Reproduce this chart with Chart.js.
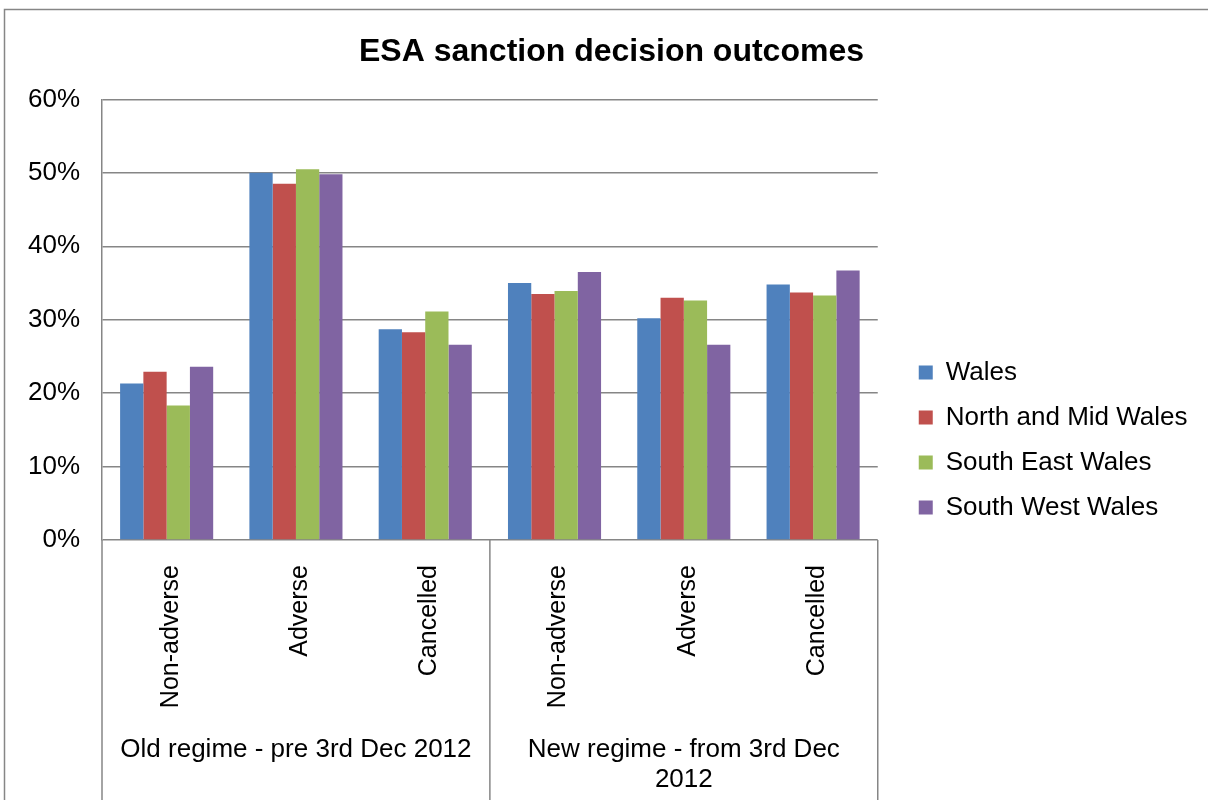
<!DOCTYPE html>
<html>
<head>
<meta charset="utf-8">
<title>ESA sanction decision outcomes</title>
<script src="https://cdn.jsdelivr.net/npm/chart.js@4.4.1/dist/chart.umd.min.js"></script>
<style>
  html, body { margin: 0; padding: 0; background: #fff; }
  #wrap { width: 1208px; height: 800px; position: relative; }
</style>
</head>
<body>
<div id="wrap"><canvas id="esaChart"></canvas></div>
<script>
// categories and region series (percent)
const categories = ['Non-adverse', 'Adverse', 'Cancelled', 'Non-adverse', 'Adverse', 'Cancelled'];
const groupLabels = [['Old regime - pre 3rd Dec 2012'], ['New regime - from 3rd Dec', '2012']];
const groupSizes = [3, 3];

const wales     = [21.3, 50.0, 28.7, 35.0, 30.2, 34.8];
const northMid  = [22.9, 48.5, 28.3, 33.5, 33.0, 33.7];
const southEast = [18.3, 50.5, 31.1, 33.9, 32.6, 33.3];
const southWest = [23.6, 49.8, 26.6, 36.5, 26.6, 36.7];

const yTicks = [0, 10, 20, 30, 40, 50, 60];

const lineGrey = '#868686';
const fontFamily = '"Liberation Sans", Arial, sans-serif';

Chart.defaults.font.family = fontFamily;
Chart.defaults.color = '#000';

// outer frame, group separators and the second row of category labels
const groupAxis = {
    id: 'groupAxis',
    beforeDraw(chart) {
        const ctx = chart.ctx;
        ctx.save();
        ctx.strokeStyle = lineGrey;
        ctx.lineWidth = 1.5;
        ctx.strokeRect(4.5, 9.5, chart.width + 20, chart.height + 20);
        ctx.restore();
    },
    afterLayout(chart) {
        // nudge the legend block right and down, and centre the title on the frame
        const lg = chart.legend;
        lg.left += 22; lg.right += 22;
        lg.top += 40; lg.bottom += 40;
        const t = chart.titleBlock;
        t.left += 21; t.right += 21;
    },
    afterDraw(chart) {
        const ctx = chart.ctx;
        const x = chart.scales.x;
        const area = chart.chartArea;
        const half = (x.getPixelForValue(1) - x.getPixelForValue(0)) / 2;

        ctx.save();
        ctx.strokeStyle = lineGrey;
        ctx.lineWidth = 1.5;
        ctx.font = '26px ' + fontFamily;
        ctx.fillStyle = '#000';
        ctx.textAlign = 'center';
        ctx.textBaseline = 'middle';

        let start = 0;
        const edges = [x.getPixelForValue(0) - half];
        groupSizes.forEach((n, g) => {
            const end = start + n - 1;
            const left = x.getPixelForValue(start) - half;
            const right = x.getPixelForValue(end) + half;
            edges.push(right);
            const cx = (left + right) / 2;
            groupLabels[g].forEach((line, i) => {
                ctx.fillText(line, cx, 750 + i * 30);
            });
            start += n;
        });
        edges.forEach(px => {
            ctx.beginPath();
            ctx.moveTo(px, area.bottom);
            ctx.lineTo(px, chart.height);
            ctx.stroke();
        });
        ctx.restore();
    }
};

const ctx = document.getElementById('esaChart').getContext('2d');
const esaChart = new Chart(ctx, {
    type: 'bar',
    data: {
        labels: categories,
        datasets: [
            { label: 'Wales', data: wales, backgroundColor: '#4F81BD' },
            { label: 'North and Mid Wales', data: northMid, backgroundColor: '#C0504D' },
            { label: 'South East Wales', data: southEast, backgroundColor: '#9BBB59' },
            { label: 'South West Wales', data: southWest, backgroundColor: '#8064A2' }
        ]
    },
    options: {
        responsive: true,
        maintainAspectRatio: false,
        animation: false,
        datasets: {
            bar: { categoryPercentage: 0.72, barPercentage: 1.0 }
        },
        layout: {
            padding: { left: 16, right: 43, top: 0, bottom: 0 }
        },
        scales: {
            x: {
                grid: { display: false },
                border: { display: false },
                ticks: {
                    autoSkip: false,
                    maxRotation: 90,
                    minRotation: 90,
                    padding: 17,
                    labelOffset: 4,
                    font: { size: 25 },
                    color: '#000'
                },
                afterFit(scale) { scale.height = 260; }
            },
            y: {
                min: 0,
                max: 60,
                afterBuildTicks(scale) {
                    scale.ticks = yTicks.map(v => ({ value: v }));
                },
                grid: { color: lineGrey, lineWidth: 1.5, drawTicks: false },
                border: { color: lineGrey, width: 1.5 },
                ticks: {
                    padding: 22,
                    font: { size: 26 },
                    color: '#000',
                    callback: v => v + '%'
                },
                afterFit(scale) { scale.width = 86; }
            }
        },
        plugins: {
            title: {
                display: true,
                text: 'ESA sanction decision outcomes',
                font: { size: 32, weight: 'bold' },
                color: '#000',
                padding: { top: 33, bottom: 28 }
            },
            legend: {
                position: 'right',
                labels: {
                    boxWidth: 14,
                    boxHeight: 14,
                    padding: 19,
                    font: { size: 26 },
                    color: '#000'
                }
            },
            tooltip: { enabled: false }
        }
    },
    plugins: [groupAxis]
});
</script>
</body>
</html>
